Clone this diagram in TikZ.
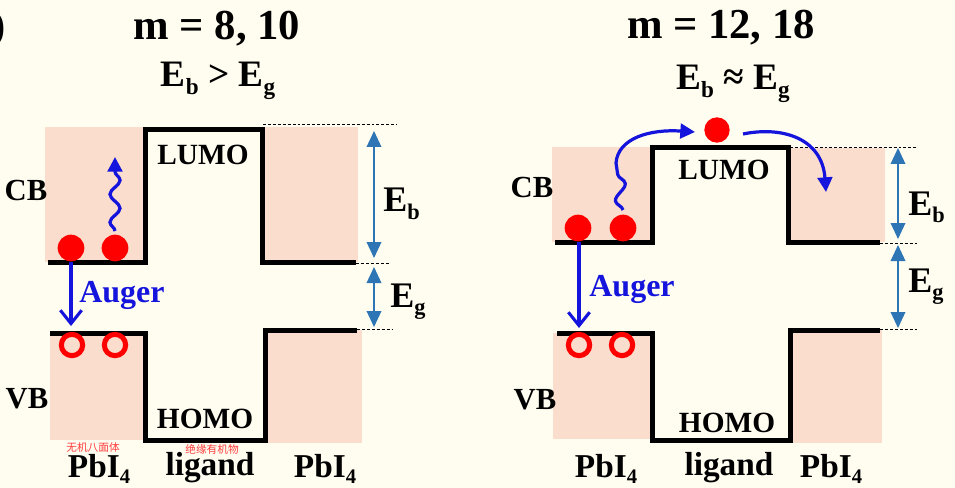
\documentclass[tikz,border=0pt]{standalone}
\usepackage{fontspec}
\setmainfont{Liberation Serif}
\newfontfamily\cjk{Noto Sans CJK SC}
\usetikzlibrary{arrows.meta,decorations.pathmorphing}
\definecolor{bg}{HTML}{FFFDF0}
\definecolor{pinkband}{HTML}{FADDCD}
\definecolor{eblue}{HTML}{1414DC}
\definecolor{gapblue}{HTML}{2E75B6}
\definecolor{dotred}{HTML}{FF0000}
\definecolor{cjkred}{HTML}{FF3B3B}
\newcommand\subx[1]{\raisebox{-0.2em}{\scalebox{0.62}{#1}}}
\begin{document}
\begin{tikzpicture}[x=0.75pt,y=-0.75pt,
  band/.style={fill=pinkband, draw=none},
  level/.style={line width=3.75pt, line join=miter, line cap=butt},
  guide/.style={dash pattern=on 2.2pt off 1.5pt, line width=0.75pt},
  gap/.style={gapblue, line width=1pt, {Triangle[width=11pt,length=12pt]}-{Triangle[width=11pt,length=12pt]}},
  auger/.style={eblue, line width=2.3pt, -{Straight Barb[length=10pt,width=16pt]}},
  hop/.style={eblue, line width=2.4pt, -{Triangle[width=11pt,length=11pt]}},
  wave/.style={eblue, line width=2.4pt, decorate, decoration={snake, amplitude=3.8pt, segment length=21pt, post length=9pt}},
  electron/.style={fill=dotred},
  hole/.style={draw=dotred, line width=3.8pt},
  txt/.style={inner sep=0pt, anchor=base},
  title/.style={txt, font=\fontsize{32}{32}\selectfont\bfseries},
  cond/.style={txt, font=\fontsize{28}{28}\selectfont\bfseries},
  side/.style={txt, font=\fontsize{23}{23}\selectfont\bfseries},
  mo/.style={txt, font=\fontsize{22}{22}\selectfont\bfseries},
  eng/.style={txt, anchor=base west, font=\fontsize{27}{27}\selectfont\bfseries},
  augtxt/.style={txt, text=eblue, font=\fontsize{24}{24}\selectfont\bfseries},
  mat/.style={txt, font=\fontsize{25}{25}\selectfont\bfseries},
  note/.style={inner sep=0pt, text=cjkred, font=\fontsize{8}{8}\selectfont\cjk}
]
\useasboundingbox (0,0) rectangle (955,488);
\fill[bg] (0,0) rectangle (955,488);

%================ LEFT PANEL =================
\node[title, anchor=base east] (frag) at (6,40) {)};
\node[title] (ltitle) at (217,40) {m = 8, 10};
\node[cond] (lcond) at (218,87) {E\subx{b} > E\subx{g}};

% bands
\fill[band] (45,127) rectangle (143,262);
\fill[band] (262,127) rectangle (358,262);
\fill[band] (50,333) rectangle (145,440);
\fill[band] (265,330) rectangle (362,443);

% levels
\draw[level] (48,262) -- (145,262) -- (145,130) -- (262,130) -- (262,262) -- (356,262);
\draw[level] (50,333) -- (145,333) -- (145,440) -- (265,440) -- (265,330) -- (357,330);

% guides
\coordinate (lg1a) at (263,125); \coordinate (lg1b) at (397,125);
\coordinate (lg2a) at (356,263); \coordinate (lg2b) at (390,263);
\coordinate (lg3a) at (357,329); \coordinate (lg3b) at (393,329);
\draw[guide] (lg1a) -- (lg1b);
\draw[guide] (lg2a) -- (lg2b);
\draw[guide] (lg3a) -- (lg3b);

% gap arrows
\coordinate (lebt) at (374,131); \coordinate (lebb) at (374,258);
\coordinate (legt) at (374,267); \coordinate (legb) at (374,327);
\draw[gap] (lebt) -- (lebb);
\draw[gap] (legt) -- (legb);
\node[eng] (leb) at (383,212) {E\subx{b}};
\node[eng] (leg) at (390,307) {E\subx{g}};

% carriers
\coordinate (le1) at (71,248);
\coordinate (le2) at (115,248);
\coordinate (lh1) at (72,345);
\coordinate (lh2) at (115,345);
\coordinate (lwtop) at (115,157);
\coordinate (lwbot) at (115,231);
\coordinate (laug0) at (71,262);
\coordinate (laug1) at (71,326);
\draw[wave, -{Triangle[width=11pt,length=11pt]}] (lwbot) -- (lwtop);
\draw[auger] (laug0) -- (laug1);
\fill[electron] (le1) circle[radius=10pt];
\fill[electron] (le2) circle[radius=10pt];
\draw[hole] (lh1) circle[radius=8pt];
\draw[hole] (lh2) circle[radius=8pt];

% labels
\node[side] (lcb) at (26,200) {CB};
\node[side] (lvb) at (27,408) {VB};
\node[mo] (llumo) at (203,165) {LUMO};
\node[mo] (lhomo) at (205,428) {HOMO};
\node[augtxt] (laugt) at (122,302) {Auger};
\node[mat] (lpb1) at (99,477) {PbI\subx{4}};
\node[mat] (llig) at (210,475) {ligand};
\node[mat] (lpb2) at (325,477) {PbI\subx{4}};
\node[note] (lcn1) at (93,447) {无机八面体};
\node[note] (lcn2) at (212,449.5) {绝缘有机物};

%================ RIGHT PANEL =================
\node[title] (rtitle) at (721,39) {m = 12, 18};
\node[cond] (rcond) at (733,90) {E\subx{b} ≈ E\subx{g}};

% bands
\fill[band] (552,147) rectangle (650,242);
\fill[band] (788,148) rectangle (885,242);
\fill[band] (553,333) rectangle (652,439);
\fill[band] (790,330) rectangle (882,443);

% levels
\draw[level] (555,242) -- (652,242) -- (652,148) -- (788,148) -- (788,242) -- (880,242);
\draw[level] (557,333) -- (652,333) -- (652,440) -- (790,440) -- (790,330) -- (880,330);

% guides
\coordinate (rg1a) at (790,148); \coordinate (rg1b) at (917,148);
\coordinate (rg2a) at (880,243); \coordinate (rg2b) at (917,243);
\coordinate (rg3a) at (880,329); \coordinate (rg3b) at (917,329);
\draw[guide] (rg1a) -- (rg1b);
\draw[guide] (rg2a) -- (rg2b);
\draw[guide] (rg3a) -- (rg3b);

% gap arrows
\coordinate (rebt) at (898,148); \coordinate (rebb) at (898,239);
\coordinate (regt) at (898,245); \coordinate (regb) at (898,328);
\draw[gap] (rebt) -- (rebb);
\draw[gap] (regt) -- (regb);
\node[eng] (reb) at (908,215) {E\subx{b}};
\node[eng] (reg) at (908,292) {E\subx{g}};

% carriers
\coordinate (re1) at (578,228);
\coordinate (re2) at (623,228);
\coordinate (re3) at (717,130);
\coordinate (rh1) at (579,345);
\coordinate (rh2) at (622,345);
\coordinate (rwbot) at (623,210);
\coordinate (rwtop) at (616,163);
\coordinate (rhoptip) at (695,132);
\coordinate (rout0) at (743,134);
\coordinate (rout1) at (826,192);
\coordinate (raug0) at (579,242);
\coordinate (raug1) at (579,328);
\draw[wave, decoration={snake, amplitude=4.6pt, segment length=24pt, post length=2pt}] (rwbot) -- (rwtop);
\draw[hop] (rwtop) .. controls (618,138) and (650,129) .. (rhoptip);
\draw[hop] (rout0) .. controls (782,126) and (822,138) .. (rout1);
\draw[auger] (raug0) -- (raug1);
\fill[electron] (re1) circle[radius=10pt];
\fill[electron] (re2) circle[radius=10pt];
\fill[electron] (re3) circle[radius=9.5pt];
\draw[hole] (rh1) circle[radius=8pt];
\draw[hole] (rh2) circle[radius=8pt];

% labels
\node[side] (rcb) at (532,198) {CB};
\node[side] (rvb) at (535,409) {VB};
\node[mo] (rlumo) at (724,180) {LUMO};
\node[mo] (rhomo) at (727,432) {HOMO};
\node[augtxt] (raugt) at (632,296) {Auger};
\node[mat] (rpb1) at (606,477) {PbI\subx{4}};
\node[mat] (rlig) at (729,475) {ligand};
\node[mat] (rpb2) at (831,477) {PbI\subx{4}};
\end{tikzpicture}
\end{document}
